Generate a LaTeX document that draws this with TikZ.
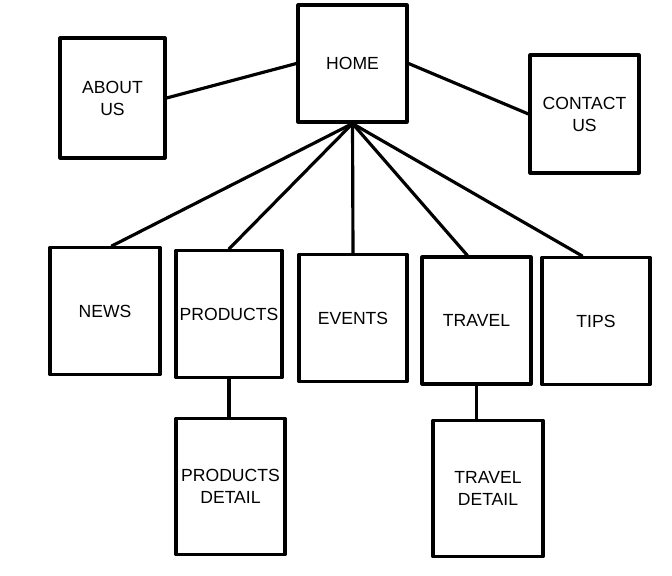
\documentclass[tikz,border=0pt]{standalone}
\usepackage{fontspec}
\setmainfont{Liberation Sans}
\usepackage{tikz}

\begin{document}
\begin{tikzpicture}[x=0.02cm, y=-0.02cm, line width=1.8pt, line join=round, line cap=round,
  page/.style={rectangle, draw, inner sep=0pt, align=center, font=\fontsize{10}{12.5}\selectfont,
    minimum width=2.16cm, minimum height=2.54cm},
  tall/.style={page, minimum height=2.72cm}]
\useasboundingbox (0,0) rectangle (672,575);
% top row
\node[page, minimum width=2.18cm, minimum height=2.34cm] (H) at (352.5,63.5) {HOME};
\node[page, minimum width=2.10cm, minimum height=2.40cm] (A) at (112.5,98) {ABOUT\\US};
\node[page, minimum width=2.18cm, minimum height=2.36cm] (C) at (584.5,114) {CONTACT\\US};
% second row
\node[page, minimum width=2.20cm] (N) at (105,311) {NEWS};
\node[page, minimum width=2.12cm] (P) at (229,314) {PRODUCTS};
\node[page] (E) at (353,318) {EVENTS};
\node[page, minimum width=2.18cm] (T) at (476.5,320.5) {TRAVEL};
\node[page] (S) at (596,321) {TIPS};
% details
\node[tall, minimum width=2.18cm] (PD) at (230.5,486.5) {PRODUCTS\\DETAIL};
\node[tall, minimum width=2.20cm] (TD) at (488,488.5) {TRAVEL\\DETAIL};
\path
(H.west) edge (A.east)
(H.east) edge (C.west)
(H.south) edge (N.84)
          edge (P.north)
          edge (E.north)
          edge (T.98)
          edge (S.102)
(P.south) edge (P.south |- PD.north)
(T.south) edge (T.south |- TD.north);
\end{tikzpicture}
\end{document}
